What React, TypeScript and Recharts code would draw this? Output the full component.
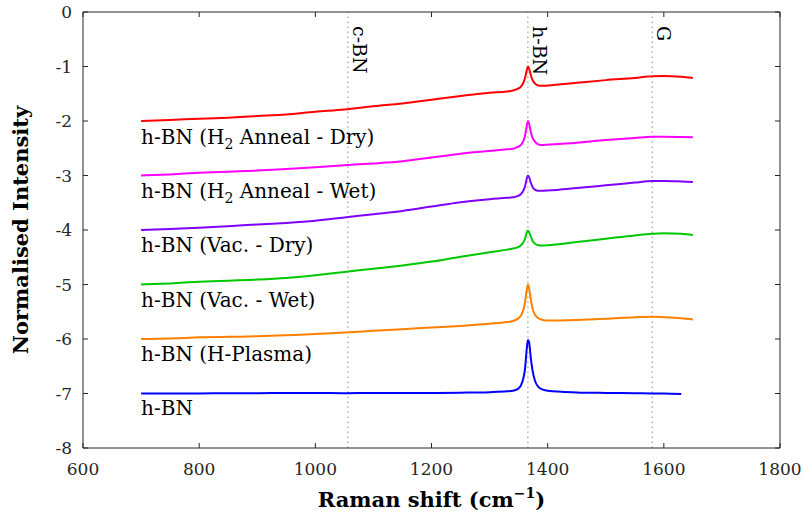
import React from 'react';
import { LineChart, Line, XAxis, YAxis, ReferenceLine, ReferenceDot } from 'recharts';

// Raman shift sample points (cm^-1)
const shift = [
  700, 750, 800, 850, 900, 950, 1000, 1050, 1100, 1150, 1200, 1250, 1300, 1330, 1340, 1348,
  1354, 1358, 1361, 1364, 1366, 1368, 1371, 1374, 1378, 1384, 1392, 1400, 1450, 1500, 1550,
  1580, 1600, 1630, 1650,
];

// stacked spectra, offset by -1 each
const h2AnnealDry = [
  -2.0, -1.98, -1.96, -1.94, -1.91, -1.88, -1.83, -1.79, -1.73, -1.68, -1.61, -1.54, -1.48,
  -1.46, -1.44, -1.41, -1.37, -1.3, -1.21, -1.07, -1.0, -1.04, -1.16, -1.25, -1.31, -1.35,
  -1.355, -1.35, -1.3, -1.25, -1.21, -1.18, -1.175, -1.19, -1.21,
];
const h2AnnealWet = [
  -3.0, -2.98, -2.95, -2.93, -2.91, -2.88, -2.85, -2.81, -2.78, -2.74, -2.67, -2.6, -2.55,
  -2.52, -2.51, -2.48, -2.44, -2.37, -2.27, -2.09, -2.0, -2.05, -2.2, -2.31, -2.38, -2.43,
  -2.44, -2.435, -2.4, -2.35, -2.31, -2.29, -2.29, -2.295, -2.3,
];
const vacDry = [
  -4.0, -3.98, -3.96, -3.93, -3.9, -3.87, -3.83, -3.77, -3.71, -3.65, -3.57, -3.49, -3.435,
  -3.41, -3.4, -3.38, -3.34, -3.28, -3.2, -3.06, -3.0, -3.03, -3.13, -3.21, -3.26, -3.28,
  -3.28, -3.275, -3.23, -3.18, -3.13, -3.1, -3.1, -3.11, -3.12,
];
const vacWet = [
  -5.0, -4.98, -4.95, -4.93, -4.91, -4.88, -4.83, -4.77, -4.71, -4.65, -4.58, -4.49, -4.41,
  -4.36, -4.34, -4.32, -4.28, -4.23, -4.16, -4.05, -4.01, -4.04, -4.12, -4.2, -4.25, -4.28,
  -4.285, -4.28, -4.22, -4.16, -4.1, -4.07, -4.06, -4.07, -4.09,
];
const hPlasma = [
  -6.0, -5.99, -5.97, -5.96, -5.95, -5.93, -5.91, -5.88, -5.85, -5.82, -5.79, -5.76, -5.72,
  -5.69, -5.67, -5.63, -5.57, -5.47, -5.33, -5.1, -5.0, -5.07, -5.28, -5.44, -5.55, -5.62,
  -5.65, -5.66, -5.65, -5.63, -5.6, -5.59, -5.6, -5.62, -5.64,
];
const pristine = [
  -7.0, -7.0, -7.0, -6.995, -6.995, -6.99, -6.99, -6.995, -6.99, -6.99, -6.99, -6.985, -6.975,
  -6.96, -6.95, -6.92, -6.85, -6.73, -6.55, -6.18, -6.02, -6.06, -6.35, -6.58, -6.76, -6.88,
  -6.93, -6.95, -6.98, -6.99, -6.995, -7.0, -7.0, -7.01, null,
];

const xTicks = [600, 800, 1000, 1200, 1400, 1600, 1800];
const yTicks = [-8, -7, -6, -5, -4, -3, -2, -1, 0];

const peakPos = [1056, 1366, 1580];
const peakNames = ['c-BN', 'h-BN', 'G'];

// series labels: [before subscript, subscript, after]
const labelParts = [
  ['h-BN (H', '2', ' Anneal - Dry)'],
  ['h-BN (H', '2', ' Anneal - Wet)'],
  ['h-BN (Vac. - Dry)', '', ''],
  ['h-BN (Vac. - Wet)', '', ''],
  ['h-BN (H-Plasma)', '', ''],
  ['h-BN', '', ''],
];
const labelY = [-2.42, -3.42, -4.4, -5.41, -6.4, -7.4];

const series = [
  { key: 'h2dry', values: h2AnnealDry, color: '#ff0000' },
  { key: 'h2wet', values: h2AnnealWet, color: '#ff00ff' },
  { key: 'vacdry', values: vacDry, color: '#7f00ff' },
  { key: 'vacwet', values: vacWet, color: '#00c800' },
  { key: 'plasma', values: hPlasma, color: '#ff8000' },
  { key: 'pristine', values: pristine, color: '#0000ff' },
];

const rows = shift.map((x, i) => {
  const row: any = { x };
  series.forEach(s => {
    row[s.key] = s.values[i];
  });
  return row;
});

const FONT = 'DejaVu Serif';
const INK = '#262626';

const PeakLabel = ({ viewBox, text }: any) => {
  if (!viewBox) return null;
  const x = viewBox.x + 5;
  const y = viewBox.y + 14;
  return (
    <text x={x} y={y} transform={`rotate(90, ${x}, ${y})`} fontFamily={FONT} fontSize={19} fill="#000">
      {text}
    </text>
  );
};

const SeriesLabel = ({ viewBox, parts }: any) => {
  if (!viewBox) return null;
  const x = viewBox.x + viewBox.width / 2;
  const y = viewBox.y + viewBox.height / 2;
  return (
    <text x={x} y={y} fontFamily={FONT} fontSize={20} fill="#000">
      <tspan>{parts[0]}</tspan>
      {parts[1] ? (
        <>
          <tspan fontSize={14} dy={5}>{parts[1]}</tspan>
          <tspan dy={-5}>{parts[2]}</tspan>
        </>
      ) : null}
    </text>
  );
};

const XTitle = ({ viewBox }: any) => {
  if (!viewBox) return null;
  return (
    <text x={viewBox.x + viewBox.width / 2} y={viewBox.y + 59} textAnchor="middle" fontFamily={FONT} fontWeight="bold" fontSize={21} fill="#000">
      <tspan>Raman shift (cm</tspan>
      <tspan fontSize={14} dy={-9}>−1</tspan>
      <tspan dy={9}>)</tspan>
    </text>
  );
};

const YTitle = ({ viewBox }: any) => {
  if (!viewBox) return null;
  const x = 28;
  const y = viewBox.y + viewBox.height / 2;
  return (
    <text x={x} y={y} transform={`rotate(-90, ${x}, ${y})`} textAnchor="middle" fontFamily={FONT} fontWeight="bold" fontSize={21} fill="#000">
      Normalised Intensity
    </text>
  );
};

const tickStyle = { fill: INK, fontSize: 17, fontFamily: FONT };

export default function App() {
  return (
    <div style={{ position: 'absolute', left: 0, top: 0, background: '#fff', fontFamily: FONT }}>
      <LineChart width={804} height={519} data={rows} margin={{ top: 11, right: 23, left: 0, bottom: 0 }}>
        <XAxis
          dataKey="x"
          type="number"
          domain={[600, 1800]}
          ticks={xTicks}
          height={71}
          stroke={INK}
          tickSize={-5}
          tickMargin={20}
          tick={tickStyle}
          label={(p: any) => <XTitle viewBox={p.viewBox} />}
        />
        <XAxis
          xAxisId="top"
          dataKey="x"
          orientation="top"
          type="number"
          domain={[600, 1800]}
          ticks={xTicks}
          height={1}
          stroke={INK}
          tickSize={-5}
          tickFormatter={() => ''}
        />
        <YAxis
          type="number"
          domain={[-8, 0]}
          ticks={yTicks}
          width={83}
          stroke={INK}
          tickSize={-5}
          tickMargin={16}
          tick={tickStyle}
          label={(p: any) => <YTitle viewBox={p.viewBox} />}
        />
        <YAxis
          yAxisId="right"
          orientation="right"
          type="number"
          domain={[-8, 0]}
          ticks={yTicks}
          width={1}
          stroke={INK}
          tickSize={-5}
          tickFormatter={() => ''}
        />
        {peakPos.map((p, i) => (
          <ReferenceLine
            key={peakNames[i]}
            x={p}
            stroke="#8c8c8c"
            strokeDasharray="1.5 3.5"
            label={(lp: any) => <PeakLabel viewBox={lp.viewBox} text={peakNames[i]} />}
          />
        ))}
        {series.map(s => (
          <Line
            key={s.key}
            dataKey={s.key}
            type="monotone"
            stroke={s.color}
            strokeWidth={2}
            dot={false}
            isAnimationActive={false}
          />
        ))}
        {/* invisible series so the mirrored axes get drawn */}
        <Line
          xAxisId="top"
          yAxisId="right"
          dataKey="h2dry"
          stroke="none"
          dot={false}
          legendType="none"
          isAnimationActive={false}
        />
        {labelY.map((y, i) => (
          <ReferenceDot
            key={i}
            x={700}
            y={y}
            r={1}
            fill="none"
            stroke="none"
            label={(lp: any) => <SeriesLabel viewBox={lp.viewBox} parts={labelParts[i]} />}
          />
        ))}
      </LineChart>
    </div>
  );
}
